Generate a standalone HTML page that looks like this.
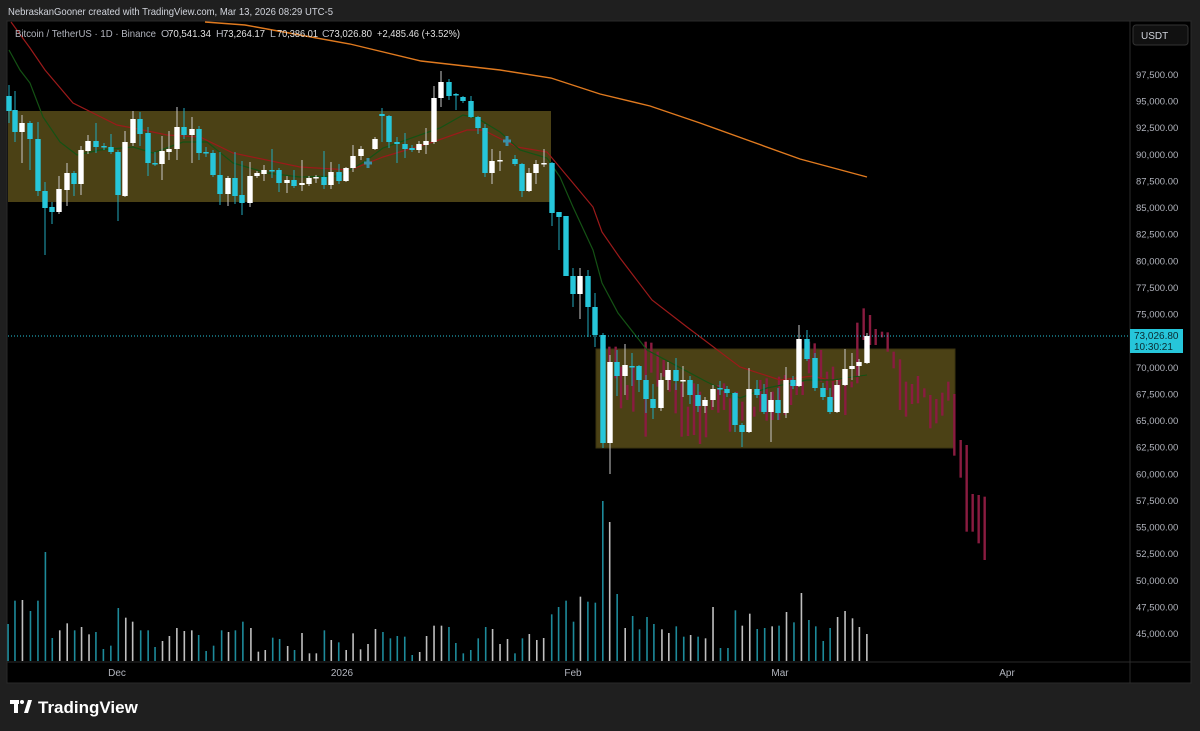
<!DOCTYPE html>
<html><head><meta charset="utf-8"><style>
html,body{margin:0;padding:0;background:#1f1f1f;width:1200px;height:731px;overflow:hidden;font-family:"Liberation Sans",sans-serif}
svg{position:absolute;left:0;top:0}
</style></head><body>
<svg id="s" width="1200" height="731" xmlns="http://www.w3.org/2000/svg">
<rect x="0" y="0" width="1200" height="731" fill="#1f1f1f"/>
<rect x="7" y="21" width="1184" height="662" fill="#000" stroke="#2a2a2a"/>
<line x1="1130" y1="21" x2="1130" y2="683" stroke="#2a2a2a"/>
<line x1="7" y1="662" x2="1191" y2="662" stroke="#2a2a2a"/>
<rect x="8" y="111" width="543" height="91" fill="#4b4115"/>
<rect x="596" y="349" width="359" height="99" fill="#4b4115" stroke="#3a320f"/>
<g id="g"></g>
<text x="8" y="15" font-size="10.5" fill="#d1d4dc" textLength="325" lengthAdjust="spacingAndGlyphs">NebraskanGooner created with TradingView.com, Mar 13, 2026 08:29 UTC-5</text>
<g font-size="10.5">
<text x="15" y="37" fill="#b2b5be" textLength="141" lengthAdjust="spacingAndGlyphs">Bitcoin / TetherUS · 1D · Binance</text>
<text x="161" y="37" fill="#b2b5be">O</text><text x="168" y="37" fill="#e0e0e0" textLength="43" lengthAdjust="spacingAndGlyphs">70,541.34</text>
<text x="216" y="37" fill="#b2b5be">H</text><text x="223" y="37" fill="#e0e0e0" textLength="42" lengthAdjust="spacingAndGlyphs">73,264.17</text>
<text x="270" y="37" fill="#b2b5be">L</text><text x="277" y="37" fill="#e0e0e0" textLength="41" lengthAdjust="spacingAndGlyphs">70,386.01</text>
<text x="322" y="37" fill="#b2b5be">C</text><text x="329" y="37" fill="#e0e0e0" textLength="43" lengthAdjust="spacingAndGlyphs">73,026.80</text>
<text x="377" y="37" fill="#e0e0e0" textLength="83" lengthAdjust="spacingAndGlyphs">+2,485.46 (+3.52%)</text>
</g>
<g font-size="10" fill="#b2b5be" text-anchor="middle">
<text x="117" y="676">Dec</text><text x="342" y="676">2026</text><text x="573" y="676">Feb</text><text x="780" y="676">Mar</text><text x="1007" y="676">Apr</text>
</g>
<g id="ax" font-size="9.5" fill="#b2b5be"></g>
<rect x="1133" y="25" width="55" height="20" rx="3" fill="#111" stroke="#333"/>
<text x="1141" y="39" font-size="10" fill="#d1d4dc">USDT</text>
<rect x="1130" y="329" width="53" height="24" fill="#26c6da"/>
<text x="1134" y="339" font-size="10" fill="#0b2a30">73,026.80</text>
<text x="1134" y="350" font-size="10" fill="#0b2a30">10:30:21</text>
<g fill="#fff"><rect x="10" y="700" width="9" height="4"/><rect x="14" y="700" width="4" height="13"/><circle cx="22" cy="702" r="2"/><polygon points="24,713 28,700 32,700 28,713"/></g>
<text x="38" y="713" font-size="17" font-weight="bold" fill="#fff">TradingView</text>
</svg>
<script>
var NS="http://www.w3.org/2000/svg",g=document.getElementById('g');
function el(t,a){var e=document.createElementNS(NS,t);for(var k in a)e.setAttribute(k,a[k]);g.appendChild(e);return e;}
var ax=document.getElementById('ax');
for(var p=100000;p>=45000;p-=2500){var y=74+(97500-p)/2500*26.62;if(y<48)continue;var t=document.createElementNS(NS,'text');t.setAttribute('x',1136);t.setAttribute('y',y+4);t.textContent=p.toLocaleString('en-US')+'.00';ax.appendChild(t);}
var vol=[[14,402,'t'],[26,332,'t'],[39,330,'w'],[53,363,'t'],[66,332,'t'],[79,186,'t'],[91,444,'t'],[104,421,'w'],[117,400,'w'],[130,421,'t'],[142,411,'w'],[155,433,'w'],[167,426,'t'],[180,477,'t'],[193,467,'t'],[206,354,'t'],[219,383,'w'],[231,395,'w'],[245,421,'t'],[258,421,'t'],[270,471,'t'],[283,453,'w'],[295,438,'w'],[308,414,'w'],[321,423,'w'],[334,421,'w'],[346,435,'t'],[359,483,'t'],[372,467,'t'],[386,421,'t'],[398,426,'w'],[410,421,'t'],[423,395,'t'],[437,414,'w'],[450,485,'w'],[462,480,'w'],[475,443,'t'],[487,447,'t'],[501,468,'w'],[513,480,'t'],[526,429,'w'],[539,490,'w'],[551,490,'w'],[565,421,'t'],[577,450,'w'],[590,457,'t'],[603,480,'w'],[615,430,'w'],[628,478,'w'],[641,462,'w'],[654,417,'w'],[667,426,'t'],[680,445,'t'],[692,438,'t'],[705,440,'t'],[718,495,'t'],[731,486,'w'],[743,438,'w'],[756,407,'w'],[769,407,'w'],[782,411,'t'],[794,459,'t'],[807,490,'t'],[820,480,'t'],[833,445,'t'],[846,411,'t'],[858,417,'w'],[871,462,'w'],[884,447,'w'],[897,490,'t'],[910,445,'t'],[922,432,'w'],[935,450,'w'],[947,444,'w'],[961,373,'t'],[973,351,'t'],[986,332,'t'],[999,395,'t'],[1011,320,'w'],[1024,335,'t'],[1037,338,'t'],[1050,33,'t'],[1062,96,'w'],[1075,312,'t'],[1089,414,'w'],[1102,378,'t'],[1114,418,'t'],[1127,381,'t'],[1139,402,'t'],[1153,418,'w'],[1165,429,'w'],[1178,409,'t'],[1191,440,'t'],[1203,435,'w'],[1216,440,'t'],[1229,445,'w'],[1242,351,'w'],[1255,474,'t'],[1268,474,'t'],[1281,361,'t'],[1293,407,'w'],[1306,371,'w'],[1319,417,'t'],[1332,414,'t'],[1345,409,'w'],[1357,407,'t'],[1370,366,'w'],[1383,397,'t'],[1396,309,'w'],[1409,390,'t'],[1421,409,'t'],[1434,453,'t'],[1446,414,'t'],[1459,381,'w'],[1472,363,'w'],[1485,385,'w'],[1497,411,'w'],[1510,432,'w']];
vol.forEach(function(v){var x=v[0]/1.742,y=490+v[1]/3;el('rect',{x:x-0.75,y:y,width:1.6,height:661-y,fill:v[2]=='t'?'#1d8a9a':'#bfbfbf'});});
var rb=[[88,140,235],[107,140,235],[123,200,325],[142,255,300],[160,200,335],[197,125,410],[214,128,218],[233,155,260],[251,180,230],[269,230,275],[287,250,340],[305,250,410],[324,320,408],[342,250,405],[360,275,432],[378,300,412],[397,300,330],[415,255,338],[432,250,330],[450,295,395],[470,275,350],[487,305,362],[505,300,395],[523,320,350],[541,240,335],[560,235,362],[578,275,360],[597,230,360],[615,225,345],[633,235,315],[650,245,285],[668,245,285],[687,125,220],[704,130,220],[723,150,245],[741,215,270],[759,200,300],[778,235,300],[796,255,345],[815,245,262],[832,68,250],[851,25,120],[870,45,135],[887,87,135],[906,95,112],[923,97,155],[941,155,205],[960,178,330],[978,245,350],[996,252,312],[1014,228,310],[1033,265,292],[1051,285,385],[1069,297,370],[1087,278,347],[1105,245,302],[1123,282,467],[1142,420,533],[1160,435,695],[1178,582,695],[1196,585,730],[1214,590,780]];
rb.forEach(function(r){var x=r[0]/3+580;el('rect',{x:x-1.2,y:r[1]/3+300,width:2.4,height:(r[2]-r[1])/3,fill:'#8a1c40'});});
function pl(pts,c,w){el('polyline',{points:pts,fill:'none',stroke:c,'stroke-width':w||1.2});}
pl("205,22 245,25 300,35 350,44 421,61 500,70 551,78 600,94 650,106 700,123 750,141 800,159 867,177","#e07a1f",1.4);
pl("11,22 30,48 45,70 73,103 117,125 143,130 167,135 200,137 233,153 300,167 350,170 383,157 433,142 467,130 483,130 517,147 547,152 573,183 593,207 602,232 620,258 652,300 687,327 740,367 780,380 813,376 833,381 867,375","#9b1a1a");
pl("9,50 20,70 30,83 43,117 60,142 77,155 100,150 133,147 153,153 183,142 207,142 233,163 267,173 300,177 340,176 367,160 383,148 440,128 463,115 477,118 500,132 520,150 547,158 560,177 573,207 593,250 602,283 618,313 647,350 707,382 740,398 767,388 807,380 833,380 867,375","#145214");
el('line',{x1:8,y1:336,x2:1130,y2:336,stroke:'#26c6da','stroke-width':1,'stroke-dasharray':'1,2'});
var C=[[9,96,111,'t',85,123],[15,110,132,'t',91,142],[22,123,132,'w',115,163],[30,123,139,'t',121,170],[38,139,191,'t',122,196],[45,191,208,'t',182,255],[52,207,212,'t',202,224],[59,189,212,'w',176,214],[67,173,190,'w',163,206],[74,173,184,'t',171,196],[81,150,184,'w',146,195],[88,141,151,'w',135,154],[96,141,147,'t',123,153],[104,146,147,'t',143,150],[111,147,152,'t',134,154],[118,152,195,'t',150,221],[125,142,196,'w',131,197],[133,119,143,'w',111,146],[140,119,134,'t',112,146],[148,133,163,'t',127,176],[155,163,164,'t',152,166],[162,151,164,'w',136,180],[169,149,152,'w',131,160],[177,127,149,'w',107,160],[184,127,135,'t',108,139],[192,129,135,'w',117,163],[199,129,153,'t',126,160],[206,152,153,'t',147,157],[213,153,175,'t',150,177],[220,175,194,'t',152,205],[228,178,194,'w',176,206],[235,178,196,'t',152,204],[242,195,203,'t',161,215],[250,176,203,'w',162,207],[257,173,176,'w',171,178],[264,170,174,'w',165,181],[272,170,171,'t',149,178],[279,170,183,'t',168,192],[287,180,183,'w',176,193],[294,180,186,'t',170,188],
[302,183,185,'w',160,191],[309,178,184,'w',176,186],[316,177,178,'w',175,183],[324,177,185,'t',151,189],[331,172,185,'w',162,189],[339,172,181,'t',164,184],[346,168,181,'w',167,182],[353,156,168,'w',145,172],[361,149,156,'w',146,160],[368,161,165,'p',157,169],[375,139,149,'w',137,150],[382,114,116,'t',108,142],[389,116,142,'t',115,148],[397,142,144,'t',137,163],[405,144,149,'t',133,158],[412,148,150,'t',145,152],[419,144,150,'w',141,153],[426,141,145,'w',128,154],[434,98,142,'w',86,144],[441,82,98,'w',71,107],[449,82,96,'t',79,100],[456,94,95,'t',93,110],[463,97,101,'t',96,103],[471,101,117,'t',96,118],[478,117,128,'t',116,134],[485,128,173,'t',124,177],[492,161,173,'w',149,184],[500,160,161,'w',151,171],[507,139,143,'p',135,170],[515,159,164,'t',155,166],[522,164,191,'t',163,197],[529,173,191,'w',168,192],[536,164,173,'w',160,184],[544,163,164,'w',149,167],[552,163,213,'t',162,226],[559,212,217,'t',212,250],[566,216,276,'t',216,276],[573,276,294,'t',268,307],[580,276,294,'w',268,319],[588,276,307,'t',270,337],[595,307,335,'t',293,347],[603,335,443,'t',333,448],[610,362,443,'w',355,474],
[617,362,376,'t',350,396],[625,365,376,'w',344,395],[632,366,367,'t',353,386],[639,366,380,'t',365,392],[646,380,399,'t',375,413],[653,399,408,'t',384,419],[661,380,408,'w',373,411],[668,370,380,'w',362,390],[676,370,381,'t',358,390],[683,380,381,'w',366,397],[690,380,395,'t',376,404],[698,395,406,'t',384,412],[705,400,406,'w',397,413],[713,389,400,'w',385,407],[720,388,389,'t',381,395],[727,389,393,'t',386,397],[735,393,425,'t',392,432],[742,425,432,'t',423,447],[749,389,432,'w',368,433],[757,389,395,'t',380,398],[764,394,412,'t',384,414],[771,400,412,'w',392,442],[778,400,413,'t',388,420],[786,380,413,'w',367,418],[793,380,386,'t',376,389],[799,339,386,'w',325,387],[807,339,359,'t',330,361],[815,358,388,'t',353,391],[823,388,397,'t',383,400],[830,397,412,'t',388,414],[837,385,412,'w',380,413],[845,369,385,'w',349,386],[852,366,369,'w',353,380],[859,362,366,'w',359,376],[867,336,363,'w',333,364]];
C.forEach(function(c){var x=c[0];
 if(c[3]=='p'){var m=(c[1]+c[2])/2;el('rect',{x:x-4,y:m-1.5,width:8,height:3,fill:'#3a8fa8'});el('rect',{x:x-1.5,y:m-5,width:3,height:10,fill:'#3a8fa8'});return;}
 var col=c[3]=='w'?'#ffffff':'#26c6da',wc=c[3]=='w'?'#c8c8c8':'#22a9bb';
 el('line',{x1:x,y1:c[4],x2:x,y2:c[5],stroke:wc,'stroke-width':1});
 el('rect',{x:x-2.7,y:c[1],width:5.4,height:Math.max(1.5,c[2]-c[1]),fill:col});});
</script>
</body></html>
